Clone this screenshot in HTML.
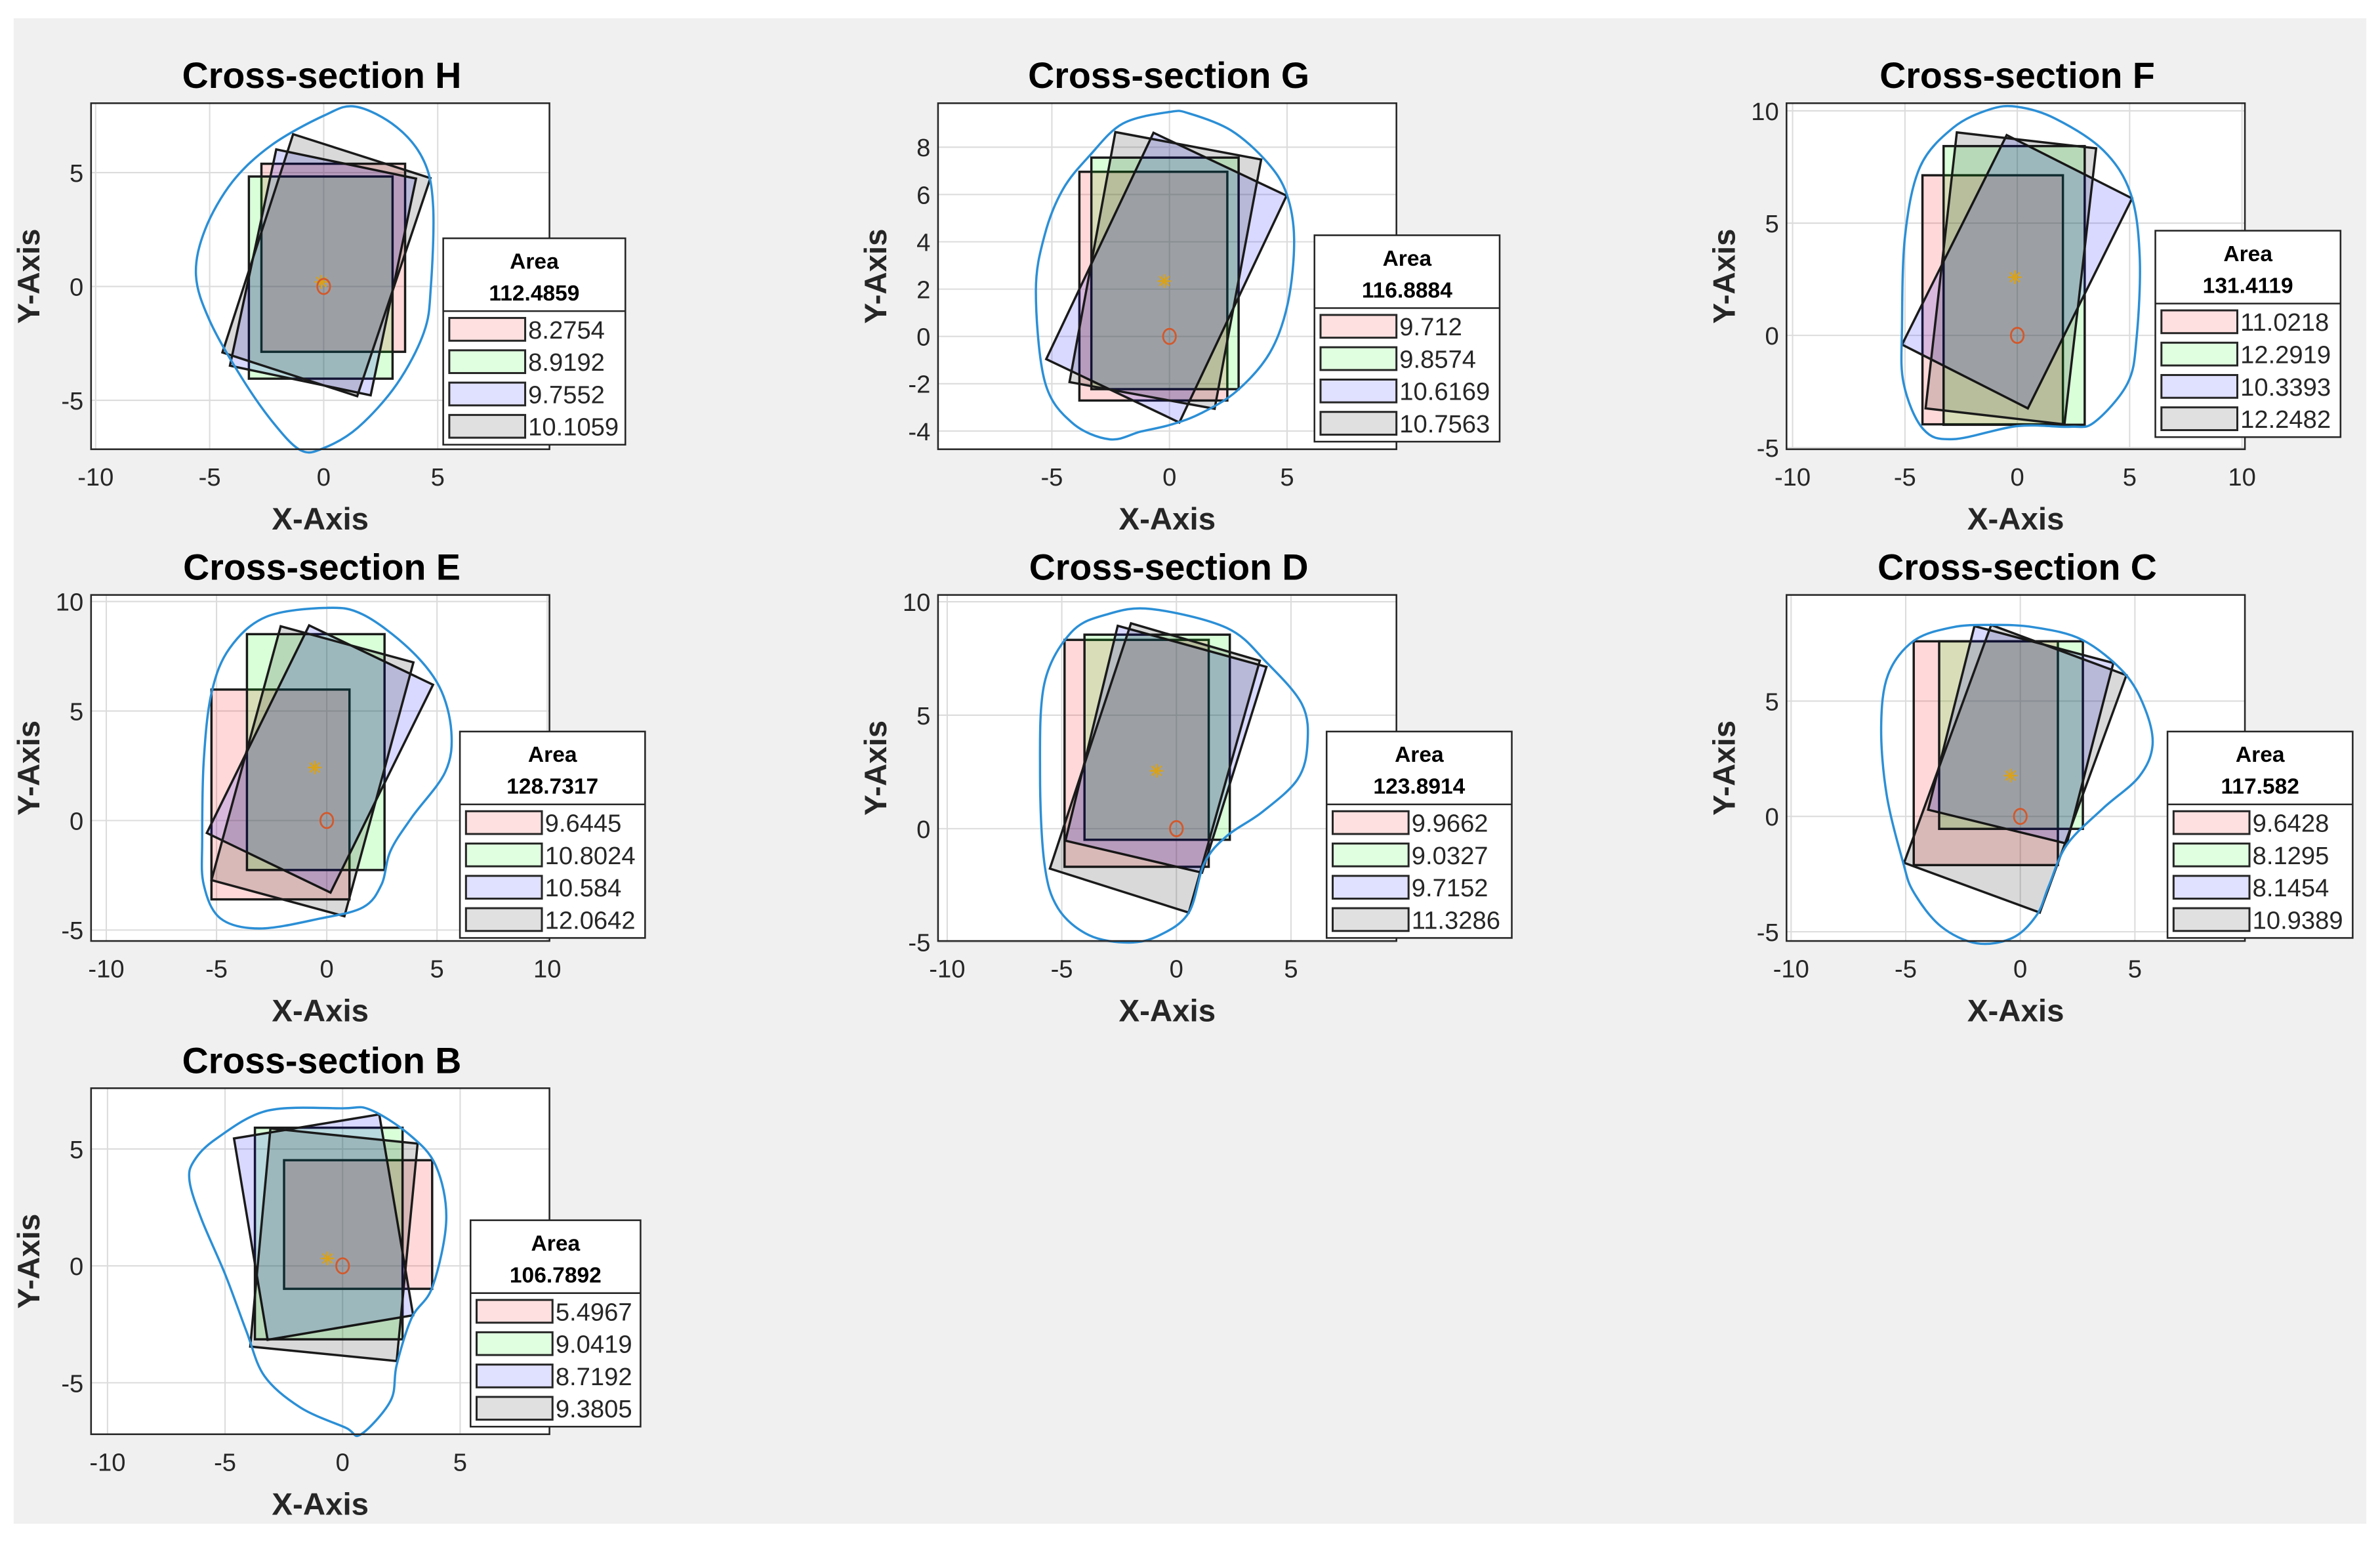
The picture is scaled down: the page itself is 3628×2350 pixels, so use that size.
<!DOCTYPE html>
<html><head><meta charset="utf-8"><title>Cross-sections</title>
<style>
html,body{margin:0;padding:0;background:#fff;}
svg{display:block;font-family:"Liberation Sans",Arial,sans-serif;}
</style></head>
<body>
<svg id="fig" xmlns="http://www.w3.org/2000/svg" width="3628" height="2350" viewBox="0 0 1568 1016" preserveAspectRatio="none">
<rect x="9" y="12" width="1550" height="992" fill="#f0f0f0"/>
</svg>
<script>
// ---- data ----
const sectionLetters = ['H','G','F','E','D','C','B'];
const totalAreas = ['112.4859','116.8884','131.4119','128.7317','123.8914','117.582','106.7892'];
const areaRed   = ['8.2754','9.712','11.0218','9.6445','9.9662','9.6428','5.4967'];
const areaGreen = ['8.9192','9.8574','12.2919','10.8024','9.0327','8.1295','9.0419'];
const areaBlue  = ['9.7552','10.6169','10.3393','10.584','9.7152','8.1454','8.7192'];
const areaGray  = ['10.1059','10.7563','12.2482','12.0642','11.3286','10.9389','9.3805'];
// axis-aligned rectangles [xmin, xmax, ymin, ymax]
const rectRed = [
  [-2.73,3.57,-2.87,5.39],[-3.83,2.46,-2.71,6.96],[-4.22,2.03,-3.96,7.13],
  [-5.23,1.03,-3.6,5.98],[-4.88,1.41,-1.68,8.32],[-4.65,1.64,-2.11,7.59],[-2.49,3.81,-0.98,4.52]];
const rectGreen = [
  [-3.28,3.02,-4.05,4.83],[-3.32,2.94,-2.23,7.56],[-3.28,3.0,-3.98,8.43],
  [-3.62,2.62,-2.26,8.51],[-4.01,2.33,-0.49,8.55],[-3.54,2.73,-0.54,7.59],[-3.73,2.55,-3.14,5.91]];
// rotated rectangles, 4 corners each
const quadBlue = [
  [[-2.08,6.02],[4.05,4.74],[2.06,-4.78],[-4.11,-3.48]],
  [[-0.68,8.61],[4.98,5.95],[0.42,-3.64],[-5.24,-0.96]],
  [[-0.47,8.92],[5.11,6.10],[0.47,-3.25],[-5.13,-0.41]],
  [[-0.8,8.91],[4.82,6.2],[0.17,-3.29],[-5.44,-0.57]],
  [[-2.56,8.94],[3.93,7.13],[1.12,-1.94],[-4.84,-0.53]],
  [[-2.0,8.25],[4.06,6.65],[2.03,-1.18],[-4.02,0.29]],
  [[-4.62,5.45],[1.56,6.48],[3.0,-2.11],[-3.19,-3.16]]];
const quadGray = [
  [[-1.34,6.69],[4.68,4.76],[1.47,-4.82],[-4.44,-2.90]],
  [[-2.30,8.64],[3.9,7.48],[1.92,-3.06],[-4.25,-1.93]],
  [[-2.69,9.04],[3.51,8.33],[2.10,-3.96],[-4.08,-3.25]],
  [[-2.09,8.87],[3.93,7.22],[0.8,-4.37],[-5.23,-2.72]],
  [[-1.98,9.05],[3.64,7.40],[0.54,-3.70],[-5.52,-1.76]],
  [[-1.27,8.3],[4.63,6.12],[0.85,-4.17],[-5.07,-2.01]],
  [[-3.07,5.88],[3.19,5.23],[2.30,-4.07],[-3.93,-3.45]]];
const outlineH = [[1.4,7.9],[3.2,7.0],[4.4,5.5],[4.8,3.5],[4.7,0],[4.4,-2],[3.2,-4.3],[1.5,-6.2],[0,-7.1],[-1,-7.2],[-2.2,-6],[-3.6,-4],[-5,-1.5],[-5.6,0.5],[-5.2,2.5],[-4,4.6],[-2.3,6.2],[0,7.5]];
const outlineG = [[0,9.49],[0.83,9.43],[2.62,8.71],[4.15,7.37],[4.98,6.03],[5.3,4.11],[5.04,1.44],[4.28,-0.67],[2.87,-2.3],[1.34,-3.25],[0.06,-3.73],[-1.21,-4.02],[-2.55,-4.35],[-4.15,-3.64],[-5.3,-1.91],[-5.68,1.91],[-5.3,4.31],[-4.53,6.22],[-3.38,7.66],[-1.98,9.0]];
const outlineF = [[0,10.18],[1.7,9.65],[3.84,8.23],[5.05,6.3],[5.45,3.46],[5.31,-0.1],[4.91,-2.13],[3.44,-3.86],[2.37,-4.07],[0,-4.04],[-2.85,-4.62],[-4.19,-4.17],[-5.06,-2.13],[-5.13,0.41],[-4.99,4.47],[-4.32,7.52],[-2.85,9.25],[-1.24,10.06]];
const outlineE = [[0,9.71],[1.65,9.4],[3.72,7.86],[5.1,6.12],[5.65,4.06],[5.37,2.21],[3.86,0.15],[2.89,-1.39],[2.48,-2.93],[1.65,-3.96],[-0.28,-4.47],[-3.03,-4.93],[-4.82,-4.47],[-5.58,-2.93],[-5.65,-0.87],[-5.58,2.72],[-5.23,5.81],[-4.41,7.86],[-2.75,9.3]];
const outlineD = [[-1.1,9.68],[2.19,8.85],[3.93,7.33],[5.48,5.48],[5.72,3.76],[5.29,2.18],[3.74,0.73],[2.19,-0.33],[1.22,-1.52],[0.54,-3.70],[-0.72,-4.69],[-2.07,-5.02],[-3.82,-4.69],[-5.17,-3.5],[-5.76,-1.52],[-5.95,2.44],[-5.76,6.4],[-4.59,8.65],[-3.04,9.44]];
const outlineC = [[-1.25,8.3],[0.59,8.2],[2.69,7.66],[4.52,6.24],[5.44,4.67],[5.77,3.09],[5.18,1.72],[3.6,0.34],[2.03,-1.23],[1.25,-3.0],[0.72,-4.27],[-0.33,-5.26],[-1.9,-5.5],[-3.47,-4.76],[-4.65,-3.29],[-5.11,-2.01],[-5.83,0.93],[-6.07,3.88],[-5.77,6.14],[-4.65,7.61],[-2.95,8.2]];
const outlineB = [[-3.19,6.64],[0,6.74],[1.15,6.69],[2.81,5.64],[3.96,4.3],[4.41,1.99],[3.83,-0.88],[2.94,-2.22],[2.3,-4.24],[2.04,-5.77],[0.77,-7.21],[0.13,-6.92],[-1.79,-6.06],[-3.32,-4.72],[-4.09,-2.8],[-4.98,-0.4],[-6.0,1.99],[-6.51,3.62],[-6.32,4.49],[-5.36,5.45]];
const outlines = [outlineH,outlineG,outlineF,outlineE,outlineD,outlineC,outlineB];
const starPoints = [[-0.1,0.2],[-0.22,2.34],[-0.11,2.59],[-0.55,2.42],[-0.87,2.55],[-0.43,1.77],[-0.64,0.32]];
const circlePoints = [[0,0],[0,0],[0,0],[0,0],[0,0],[0,0],[0,0]];
// axis config
const xLims = [[-10.2,9.9],[-9.84,9.65],[-10.27,10.13],[-10.69,10.1],[-10.4,9.6],[-10.2,9.8],[-10.7,8.8]];
const yLims = [[-7.15,8.05],[-4.77,9.86],[-5.07,10.34],[-5.5,10.3],[-4.95,10.3],[-5.4,9.6],[-7.2,7.6]];
const xTicks = [[-10,-5,0,5],[-5,0,5],[-10,-5,0,5,10],[-10,-5,0,5,10],[-10,-5,0,5],[-10,-5,0,5],[-10,-5,0,5]];
const yTicks = [[-5,0,5],[-4,-2,0,2,4,6,8],[-5,0,5,10],[-5,0,5,10],[-5,0,5,10],[-5,0,5],[-5,0,5]];

// ---- layout (pixels, not data) ----
const boxes = [[60,68],[618,68],[1177,68],[60,392],[618,392],[1177,392],[60,717]];
const BW = 302, BH = 228;
const legendPos = [[292,157,120],[866,155,122],[1420,152,122],[303,482,122],[874,482,122],[1428,482,122],[310,804,112]];

const NS = 'http://www.w3.org/2000/svg';
const svg = document.getElementById('fig');
function mk(tag, attrs, parent){
  const e = document.createElementNS(NS, tag);
  for (const k in attrs) e.setAttribute(k, attrs[k]);
  (parent||svg).appendChild(e);
  return e;
}
function smoothPath(pts){
  const n = pts.length; let d = 'M' + pts[0][0] + ',' + pts[0][1];
  for (let i=0;i<n;i++){
    const p0=pts[(i-1+n)%n], p1=pts[i], p2=pts[(i+1)%n], p3=pts[(i+2)%n];
    const c1=[p1[0]+(p2[0]-p0[0])/6, p1[1]+(p2[1]-p0[1])/6];
    const c2=[p2[0]-(p3[0]-p1[0])/6, p2[1]-(p3[1]-p1[1])/6];
    d += ' C'+c1[0].toFixed(2)+','+c1[1].toFixed(2)+' '+c2[0].toFixed(2)+','+c2[1].toFixed(2)+' '+p2[0].toFixed(2)+','+p2[1].toFixed(2);
  }
  return d + 'Z';
}

for (let p=0;p<7;p++){
  const [bx,by] = boxes[p];
  const [x0,x1] = xLims[p], [y0,y1] = yLims[p];
  const sx = v => bx + (v-x0)/(x1-x0)*BW;
  const sy = v => by + BH - (v-y0)/(y1-y0)*BH;
  const L = sectionLetters[p].toLowerCase();
  const g = mk('g', {});
  
  

  const bg = mk('rect', {x:bx,y:by,width:BW,height:BH,fill:'#fff'}, g);
  
  

  xTicks[p].forEach(t => {
    const X = sx(t);
    const gl = mk('line', {x1:X,x2:X,y1:by,y2:by+BH,stroke:'#dcdcdc','stroke-width':0.9}, g);
    
    
    const tl = mk('text', {x:X,y:by+BH+24,'text-anchor':'middle','font-size':16.5,fill:'#262626'}, g);
    tl.textContent = t;
    
    
  });
  yTicks[p].forEach(t => {
    const Y = sy(t);
    const gl = mk('line', {x1:bx,x2:bx+BW,y1:Y,y2:Y,stroke:'#dcdcdc','stroke-width':0.9}, g);
    
    
    const tl = mk('text', {x:bx-5,y:Y+6,'text-anchor':'end','font-size':16.5,fill:'#262626'}, g);
    tl.textContent = t;
    
    
  });

  const rr = rectRed[p], rg = rectGreen[p];
  const r1 = mk('rect', {x:sx(rr[0]),y:sy(rr[3]),width:sx(rr[1])-sx(rr[0]),height:sy(rr[2])-sy(rr[3]),fill:'#ff0000','fill-opacity':0.15,stroke:'#1a1a1a','stroke-width':1.5}, g);
  
  
  const r2 = mk('rect', {x:sx(rg[0]),y:sy(rg[3]),width:sx(rg[1])-sx(rg[0]),height:sy(rg[2])-sy(rg[3]),fill:'#00ff00','fill-opacity':0.15,stroke:'#1a1a1a','stroke-width':1.5}, g);
  
  
  const qb = mk('polygon', {points:quadBlue[p].map(c=>sx(c[0]).toFixed(2)+','+sy(c[1]).toFixed(2)).join(' '),fill:'#0000ff','fill-opacity':0.15,stroke:'#1a1a1a','stroke-width':1.5}, g);
  
  
  const qg = mk('polygon', {points:quadGray[p].map(c=>sx(c[0]).toFixed(2)+','+sy(c[1]).toFixed(2)).join(' '),fill:'#000000','fill-opacity':0.15,stroke:'#1a1a1a','stroke-width':1.5}, g);
  
  

  const ol = mk('path', {d:smoothPath(outlines[p].map(c=>[sx(c[0]),sy(c[1])])),fill:'none',stroke:'#2b8fd6','stroke-width':1.5}, g);
  
  

  const SX = sx(starPoints[p][0]), SY = sy(starPoints[p][1]);
  const st = mk('g', {stroke:'#d9a21b','stroke-width':1.1}, g);
  
  
  [[0,-4.5,0,4.5],[-4.5,0,4.5,0],[-3.2,-3.2,3.2,3.2],[-3.2,3.2,3.2,-3.2]].forEach(s=>mk('line',{x1:SX+s[0],y1:SY+s[1],x2:SX+s[2],y2:SY+s[3]},st));
  const ci = mk('ellipse', {cx:sx(circlePoints[p][0]),cy:sy(circlePoints[p][1]),rx:4.2,ry:5,fill:'none',stroke:'#d4582a','stroke-width':1.2}, g);
  
  

  const fr = mk('rect', {x:bx,y:by,width:BW,height:BH,fill:'none',stroke:'#262626','stroke-width':1.1}, g);
  
  

  const ti = mk('text', {x:bx+BW/2+1,y:by-10,'text-anchor':'middle','font-size':24,'font-weight':'bold',fill:'#000'}, g);
  ti.textContent = 'Cross-section ' + sectionLetters[p];
  
  
  const xl = mk('text', {x:bx+BW/2,y:by+BH+53,'text-anchor':'middle','font-size':20.5,'font-weight':'bold',fill:'#262626'}, g);
  xl.textContent = 'X-Axis';
  
  
  const yx = bx-34, yy = by+BH/2;
  const yl = mk('text', {x:yx,y:yy,'text-anchor':'middle','font-size':20.5,'font-weight':'bold',fill:'#262626',transform:'rotate(-90 '+yx+' '+yy+')'}, g);
  yl.textContent = 'Y-Axis';
  
  

  const [lx,ly,lw] = legendPos[p];
  const lg = mk('g', {}, g);
  
  
  mk('rect', {x:lx,y:ly,width:lw,height:136,fill:'#fff',stroke:'#262626','stroke-width':1.1}, lg);
  mk('line', {x1:lx,x2:lx+lw,y1:ly+48,y2:ly+48,stroke:'#262626','stroke-width':1.1}, lg);
  const h1 = mk('text', {x:lx+lw/2,y:ly+20,'text-anchor':'middle','font-size':14.5,'font-weight':'bold',fill:'#000'}, lg);
  h1.textContent = 'Area';
  
  
  const h2 = mk('text', {x:lx+lw/2,y:ly+41,'text-anchor':'middle','font-size':14.5,'font-weight':'bold',fill:'#000'}, lg);
  h2.textContent = totalAreas[p];
  
  
  const vals = [areaRed[p],areaGreen[p],areaBlue[p],areaGray[p]];
  const cols = ['#ffe0e0','#e0ffe0','#e0e0ff','#e0e0e0'];
  for (let i=0;i<4;i++){
    const cy = ly+60+i*21.3;
    const pr = mk('rect', {x:lx+4,y:cy-7.5,width:50,height:15,fill:cols[i],stroke:'#262626','stroke-width':1.3}, lg);
    
    
    const tx = mk('text', {x:lx+56,y:cy+6,'font-size':16.5,fill:'#262626'}, lg);
    tx.textContent = vals[i];
    
    
  }
}
</script>
</body></html>
